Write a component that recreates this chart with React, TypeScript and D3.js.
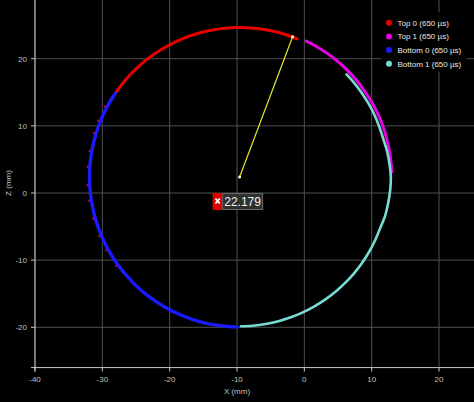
import React from 'react';
import * as d3 from 'd3';

const W = 474;
const H = 402;

const xTicks = [-40, -30, -20, -10, 0, 10, 20];
const zTicks = [-20, -10, 0, 10, 20];

const seriesNames = ['Top 0 (650 µs)', 'Top 1 (650 µs)', 'Bottom 0 (650 µs)', 'Bottom 1 (650 µs)'];
const seriesColors = ['#e80000', '#e800e8', '#1a1aff', '#78dcd2'];

// Top 0 (dense arc, top)
const top0X = [-1.07, -2.71, -4.58, -6.5, -8.43, -10.38, -12.32, -14.24, -16.12, -17.95, -19.72, -21.42, -23.02, -24.52, -25.91, -27.17, -28.3, -28.91];
const top0Z = [22.95, 23.56, 24.08, 24.43, 24.62, 24.64, 24.48, 24.16, 23.68, 23.03, 22.22, 21.26, 20.16, 18.92, 17.56, 16.08, 14.49, 13.5];
// Top 0 (scattered points on left side)
const top0bX = [-29.38, -30.37, -31.02, -31.66, -31.95, -31.97, -31.72, -31.13, -30.22, -29.19, -27.72];
const top0bZ = [12.87, 10.74, 8.9, 6.24, 3.91, 1.18, -1.15, -3.82, -6.4, -8.51, -10.82];
// Top 1
const top1X = [0.3, 1.68, 3.35, 4.9, 6.36, 7.68, 8.88, 9.95, 10.86, 11.62, 12.2, 12.64, 12.9, 12.98];
const top1Z = [22.62, 21.9, 20.83, 19.64, 18.3, 16.86, 15.3, 13.64, 11.9, 10.08, 8.2, 6.27, 4.32, 3.14];
// Bottom 0
const bot0X = [-28.09, -29.1, -29.97, -30.68, -31.24, -31.63, -31.85, -31.9, -31.78, -31.49, -31.04, -30.42, -29.64, -28.72, -27.64, -26.43, -25.09, -23.63, -22.07, -20.41, -18.67, -16.86, -14.99, -13.09, -11.16, -9.99];
const bot0Z = [14.82, 13.16, 11.42, 9.61, 7.74, 5.84, 3.91, 1.96, 0.02, -1.9, -3.8, -5.64, -7.43, -9.13, -10.76, -12.28, -13.69, -14.98, -16.14, -17.15, -18.02, -18.73, -19.29, -19.68, -19.9, -19.95];
// Bottom 1
const bot1X = [-9.41, -7.66, -5.75, -3.85, -2.01, -0.22, 1.5, 3.13, 4.67, 6.1, 7.41, 8.59, 9.63, 10.52, 11.26, 12.0, 12.45, 12.75, 12.85, 12.65, 12.3, 11.72, 11.12, 10.4, 9.5, 8.48, 7.3, 6.26];
const bot1Z = [-19.85, -19.77, -19.51, -19.09, -18.51, -17.77, -16.88, -15.84, -14.66, -13.35, -11.92, -10.38, -8.75, -7.03, -5.24, -3.4, -1.5, 0.41, 2.35, 4.28, 6.18, 8.06, 9.88, 11.66, 13.37, 14.98, 16.52, 17.66];

const centerPt = { x: -9.61, z: 2.38 };
const edgePt = { x: -1.74, z: 23.26 };
const radiusLabel = '22.179';

const zip = (xs: number[], zs: number[]) => xs.map((x, i) => ({ x, z: zs[i] }));

export default function App() {
  const x = d3.scaleLinear().domain([-40, 20]).range([35, 439]);
  const y = d3.scaleLinear().domain([-20, 20]).range([327.3, 58.7]);
  const axisY = y(-26);
  const axisX = x(-40);

  const line = d3
    .line<{ x: number; z: number }>()
    .x((d) => x(d.x))
    .y((d) => y(d.z))
    .curve(d3.curveCatmullRom);

  const dense = [
    { pts: zip(top0X, top0Z), c: seriesColors[0], w: 3 },
    { pts: zip(top1X, top1Z), c: seriesColors[1], w: 3 },
  ];
  const scatterRed = zip(top0bX, top0bZ);
  const dense2 = [
    { pts: zip(bot0X, bot0Z), c: seriesColors[2], w: 3.4 },
    { pts: zip(bot1X, bot1Z), c: seriesColors[3], w: 2.6 },
  ];

  const cx = x(centerPt.x);
  const cy = y(centerPt.z);
  const ex = x(edgePt.x);
  const ey = y(edgePt.z);

  const font = 'Liberation Sans, Arial, sans-serif';

  return (
    <div style={{ position: 'fixed', left: 0, top: 0 }}>
      <svg width={W} height={H} style={{ display: 'block', background: '#000' }}>
        <rect x={0} y={0} width={W} height={H} fill="#000" />
        {/* grid */}
        {xTicks.map((t) => (
          <line key={'gx' + t} x1={x(t)} x2={x(t)} y1={0} y2={axisY} stroke="#505050" strokeWidth={1} />
        ))}
        {zTicks.map((t) => (
          <line key={'gz' + t} x1={axisX} x2={W} y1={y(t)} y2={y(t)} stroke="#505050" strokeWidth={1} />
        ))}
        {/* axes */}
        <line x1={axisX} x2={axisX} y1={0} y2={axisY + 4} stroke="#c8c8c8" strokeWidth={1} />
        <line x1={axisX - 4} x2={W} y1={axisY} y2={axisY} stroke="#c8c8c8" strokeWidth={1} />
        {xTicks.map((t) => (
          <g key={'xt' + t}>
            <line x1={x(t)} x2={x(t)} y1={axisY} y2={axisY + 4} stroke="#c8c8c8" />
            <text x={x(t)} y={axisY + 14} fill="#c0c0c0" fontSize={8} fontFamily={font} textAnchor="middle">
              {t}
            </text>
          </g>
        ))}
        {zTicks.map((t) => (
          <g key={'zt' + t}>
            <line x1={axisX - 4} x2={axisX} y1={y(t)} y2={y(t)} stroke="#c8c8c8" />
            <text x={axisX - 8} y={y(t) + 3} fill="#c0c0c0" fontSize={8} fontFamily={font} textAnchor="end">
              {t}
            </text>
          </g>
        ))}
        <text x={237} y={394} fill="#c0c0c0" fontSize={8} fontFamily={font} textAnchor="middle">
          X (mm)
        </text>
        <text
          transform={`translate(11,183) rotate(-90)`}
          fill="#c0c0c0"
          fontSize={8}
          fontFamily={font}
          textAnchor="middle"
        >
          Z (mm)
        </text>

        {/* series */}
        {dense.map((s, i) => (
          <path key={'d' + i} d={line(s.pts) || ''} fill="none" stroke={s.c} strokeWidth={s.w} strokeLinecap="round" />
        ))}
        {scatterRed.map((p, i) => (
          <circle key={'sr' + i} cx={x(p.x) - 1.3} cy={y(p.z)} r={1.3} fill={seriesColors[0]} />
        ))}
        {dense2.map((s, i) => (
          <path key={'e' + i} d={line(s.pts) || ''} fill="none" stroke={s.c} strokeWidth={s.w} strokeLinecap="round" />
        ))}

        {/* radius line */}
        <line x1={cx} y1={cy} x2={ex} y2={ey} stroke="#e6e632" strokeWidth={1.2} />
        <circle cx={cx} cy={cy} r={1.5} fill="#ffffc0" />
        <circle cx={ex} cy={ey} r={1.5} fill="#ffffc0" />

        {/* value label */}
        <g transform={`translate(${cx - 27},${cy + 16})`}>
          <rect x={0} y={0} width={10} height={17} fill="#e00000" />
          <path d="M2.8,5.5 L7.2,10.5 M7.2,5.5 L2.8,10.5" stroke="#fff" strokeWidth={1.8} />
          <rect x={10} y={0.5} width={40} height={16} fill="#303030" stroke="#6a6a6a" strokeWidth={1} />
          <text x={30} y={13} fill="#f0f0f0" fontSize={12} fontFamily={font} textAnchor="middle">
            {radiusLabel}
          </text>
        </g>

        {/* legend */}
        <rect x={381} y={12} width={86} height={60} fill="#000" opacity={0.85} />
        {seriesNames.map((n, i) => (
          <g key={'lg' + i} transform={`translate(389,${22.7 + i * 13.7})`}>
            <circle cx={0} cy={0} r={3} fill={seriesColors[i]} />
            <text x={8.5} y={3} fill="#e8e8e8" fontSize={8} fontFamily={font}>
              {n}
            </text>
          </g>
        ))}
      </svg>
    </div>
  );
}
